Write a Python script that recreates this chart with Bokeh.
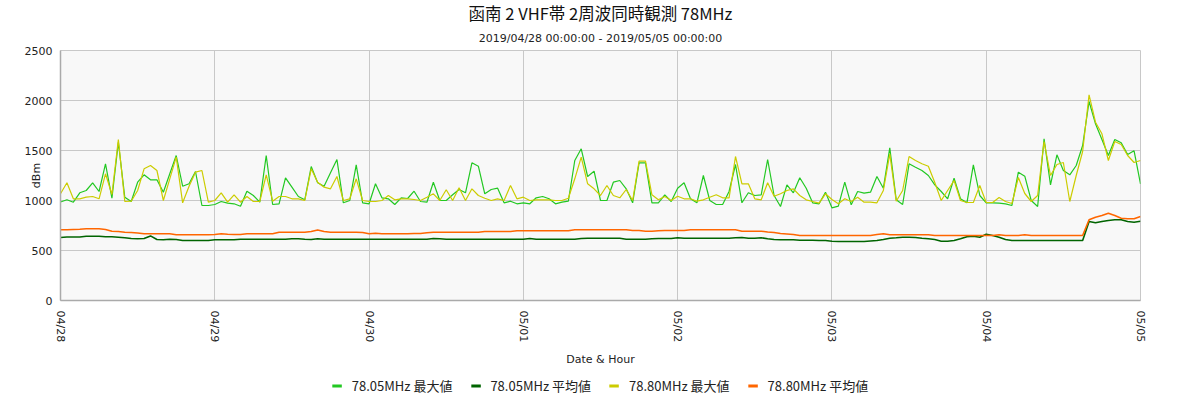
from bokeh.plotting import figure
from bokeh.layouts import column
from bokeh.models import Range1d, FixedTicker, Legend, LegendItem, Title
from bokeh.embed import file_html
from bokeh.resources import INLINE

title_text = "函南 2 VHF帯 2周波同時観測 78MHz"
subtitle_text = "2019/04/28 00:00:00 - 2019/05/05 00:00:00"
x_title = "Date & Hour"
y_title = "dBm"
day_labels = ["04/28", "04/29", "04/30", "05/01", "05/02", "05/03", "05/04", "05/05"]
y_ticks = [0, 500, 1000, 1500, 2000, 2500]
series_names = ["78.05MHz 最大値", "78.05MHz 平均値", "78.80MHz 最大値", "78.80MHz 平均値"]
series_colors = ["#22c822", "#006400", "#cccc00", "#ff6600"]

# hourly values, 2019/04/28 00:00 .. 2019/05/05 00:00
max_7805 = [
    985, 1007, 983, 1077, 1100, 1177, 1090, 1367, 1023, 1583,
    1033, 990, 1183, 1257, 1207, 1207, 1083, 1267, 1450, 1143,
    1167, 1290, 950, 950, 960, 990, 973, 967, 943, 1093,
    1050, 983, 1450, 960, 967, 1227, 1133, 1040, 1007, 1340,
    1177, 1143, 1277, 1410, 977, 1000, 1357, 977, 967, 1167,
    1027, 1017, 960, 1027, 1020, 1093, 990, 983, 1183, 1000,
    1000, 1057, 1110, 1077, 1377, 1343, 1067, 1110, 1123, 977,
    993, 967, 977, 967, 1027, 1040, 1017, 967, 983, 993,
    1400, 1517, 1240, 1293, 1000, 1000, 1183, 1200, 1117, 977,
    1377, 1377, 977, 977, 1057, 990, 1123, 1177, 1017, 977,
    1250, 1000, 960, 960, 1090, 1360, 977, 1077, 1050, 1057,
    1410, 1050, 940, 1157, 1077, 1227, 1123, 977, 967, 1083,
    927, 943, 1183, 957, 1090, 1073, 1083, 1240, 1123, 1527,
    1007, 960, 1367, 1333, 1300, 1250, 1157, 1090, 1017, 1223,
    1017, 977, 1357, 1050, 977, 977, 973, 967, 950, 1283,
    1243, 1000, 940, 1617, 1157, 1457, 1300, 1257, 1350, 1550,
    1990, 1767, 1610, 1450, 1610, 1577, 1460, 1497, 1167,
]
avg_7805 = [
    630, 635, 635, 635, 643, 643, 643, 637, 637, 633,
    627, 620, 617, 620, 646, 610, 607, 613, 610, 600,
    600, 600, 600, 600, 607, 607, 607, 607, 613, 613,
    613, 613, 613, 613, 613, 613, 617, 617, 613, 610,
    617, 613, 613, 613, 613, 613, 613, 613, 613, 613,
    613, 613, 613, 613, 613, 613, 613, 613, 620, 617,
    613, 613, 613, 613, 613, 613, 613, 613, 613, 613,
    613, 613, 613, 620, 613, 613, 613, 613, 613, 613,
    613, 620, 623, 623, 623, 623, 623, 623, 613, 613,
    613, 613, 617, 620, 620, 620, 627, 623, 623, 623,
    623, 623, 623, 623, 623, 627, 630, 623, 623, 627,
    617, 610, 607, 607, 607, 603, 603, 603, 600, 600,
    593, 590, 590, 590, 590, 590, 595, 600, 610, 623,
    627, 633, 633, 630, 623, 617, 610, 593, 593, 600,
    617, 637, 643, 633, 663, 650, 633, 610, 600, 600,
    600, 600, 600, 600, 600, 600, 600, 600, 600, 600,
    790, 777, 790, 800, 807, 807, 790, 783, 793,
]
max_7880 = [
    1067, 1177, 1017, 1017, 1033, 1040, 1017, 1267, 1060, 1610,
    990, 993, 1100, 1317, 1350, 1300, 1000, 1217, 1433, 977,
    1143, 1283, 1300, 983, 1000, 1077, 983, 1057, 983, 1040,
    990, 990, 1257, 993, 1040, 1040, 1017, 1017, 1000, 1317,
    1183, 1133, 1117, 1240, 1000, 1017, 1217, 1000, 990, 990,
    1000, 1050, 1007, 1017, 1017, 1010, 1000, 1033, 1067, 1000,
    1107, 1000, 1127, 1000, 1117, 1050, 1023, 1000, 1017, 1000,
    1150, 1017, 1033, 1000, 1007, 1007, 1007, 1000, 1000, 1023,
    1217, 1433, 1167, 1117, 1050, 1150, 1050, 1027, 1110, 1000,
    1393, 1393, 1057, 1007, 1040, 1000, 1043, 1017, 1017, 993,
    1007, 1033, 1057, 1027, 1027, 1440, 1167, 1167, 1017, 1007,
    1177, 1043, 1067, 1100, 1117, 1050, 1007, 990, 973, 1067,
    1010, 967, 1017, 990, 1033, 983, 983, 977, 1100, 1467,
    993, 1100, 1440, 1400, 1367, 1343, 1180, 1000, 1100, 1200,
    1000, 980, 980, 1150, 980, 980, 1030, 990, 970, 1230,
    1070, 990, 1050, 1590, 1250, 1360, 1380, 990, 1250, 1490,
    2057, 1783, 1667, 1400, 1590, 1560, 1450, 1380, 1400,
]
avg_7880 = [
    707, 707, 710, 713, 717, 717, 717, 710, 693, 690,
    683, 680, 675, 667, 667, 667, 667, 667, 657, 657,
    657, 657, 657, 657, 660, 667, 663, 660, 660, 667,
    667, 667, 667, 667, 683, 683, 683, 683, 683, 690,
    705, 690, 683, 683, 683, 683, 683, 680, 667, 673,
    667, 667, 667, 667, 667, 670, 670, 677, 683, 683,
    683, 683, 683, 683, 683, 683, 690, 690, 690, 690,
    690, 697, 697, 697, 697, 697, 697, 697, 697, 697,
    707, 707, 707, 707, 707, 707, 707, 707, 707, 700,
    700, 693, 693, 697, 700, 700, 700, 700, 707, 707,
    707, 707, 707, 707, 707, 707, 693, 693, 693, 693,
    685, 680, 670, 665, 660, 650, 650, 650, 650, 650,
    650, 650, 650, 650, 650, 650, 650, 660, 667, 657,
    657, 657, 657, 657, 657, 657, 650, 650, 650, 650,
    650, 650, 650, 650, 650, 650, 657, 650, 650, 650,
    657, 650, 650, 650, 650, 650, 650, 650, 650, 650,
    807, 833, 850, 873, 850, 823, 817, 817, 840,
]

hours = list(range(len(max_7805)))
hours_per_day = 24
day_ticks = [i * hours_per_day for i in range(len(day_labels))]

p = figure(
    frame_width=1080, frame_height=250,
    min_border_left=60, min_border_right=60, min_border_top=50, min_border_bottom=70,
    x_range=Range1d(day_ticks[0], day_ticks[-1]), y_range=Range1d(y_ticks[0], y_ticks[-1]),
    output_backend="svg", toolbar_location=None, title=None,
)
p.background_fill_color = "#f8f8f8"
p.border_fill_color = "white"
p.outline_line_color = "#c8c8c8"

# titles (first added sits nearest the frame)
p.add_layout(Title(text=subtitle_text, align="center", text_font="DejaVu Sans",
                   text_font_size="11px", text_font_style="normal", text_color="#222222",
                   standoff=12), "above")
p.add_layout(Title(text=title_text, align="center", text_font="Noto Sans CJK JP",
                   text_font_size="16.5px", text_font_style="normal", text_color="#111111",
                   standoff=-3), "above")

p.xaxis.ticker = FixedTicker(ticks=day_ticks)
p.xaxis.major_label_overrides = {t: lab for t, lab in zip(day_ticks, day_labels)}
p.xaxis.major_label_orientation = "vertical"
p.xaxis.axis_label = x_title
p.xaxis.axis_label_standoff = 8
p.yaxis.ticker = FixedTicker(ticks=y_ticks)
p.yaxis.axis_label = y_title
p.yaxis.axis_label_standoff = -21
for ax in (p.xaxis, p.yaxis):
    ax.major_tick_out = 0
    ax.major_tick_in = 0
    ax.minor_tick_out = 0
    ax.minor_tick_in = 0
    ax.axis_line_color = "#aaaaaa"
    ax.axis_line_width = 1.5
    ax.major_label_text_font = "DejaVu Sans"
    ax.major_label_text_font_size = "11px"
    ax.major_label_text_color = "#222222"
    ax.axis_label_text_font_style = "normal"
    ax.axis_label_text_font = "DejaVu Sans"
    ax.axis_label_text_font_size = "11px"
    ax.axis_label_text_color = "#222222"
p.yaxis.major_label_standoff = 8
p.xaxis.major_label_standoff = 10

p.xgrid.grid_line_color = "#c8c8c8"
p.ygrid.grid_line_color = "#c8c8c8"

series = [max_7805, avg_7805, max_7880, avg_7880]
widths = [1.2, 1.6, 1.2, 1.6]
for vals, col, w in zip(series, series_colors, widths):
    p.line(hours, vals, line_color=col, line_width=w)

# legend strip below the chart (its lines lie outside its own tiny view; only the key shows)
pl = figure(
    width=1200, height=30, min_border=0, x_axis_location=None, y_axis_location=None,
    x_range=Range1d(0, 1), y_range=Range1d(0, 1),
    output_backend="svg", toolbar_location=None, title=None,
)
pl.grid.visible = False
pl.outline_line_color = None
pl.background_fill_color = "white"
pl.border_fill_color = "white"
legend_renderers = [pl.line(hours, vals, line_color=col, line_width=3)
                    for vals, col in zip(series, series_colors)]
legend = Legend(
    items=[LegendItem(label=n, renderers=[r]) for n, r in zip(series_names, legend_renderers)],
    orientation="horizontal", location="center",
    glyph_width=10, glyph_height=16, label_height=16, label_standoff=10, spacing=18,
    padding=0, margin=0, border_line_color=None, background_fill_alpha=0,
    label_text_font="Noto Sans CJK JP", label_text_font_size="13px", label_text_color="#222222",
)
pl.add_layout(legend, "center")

layout = column(p, pl, spacing=0)
open("out.html", "w").write(file_html(layout, INLINE))
